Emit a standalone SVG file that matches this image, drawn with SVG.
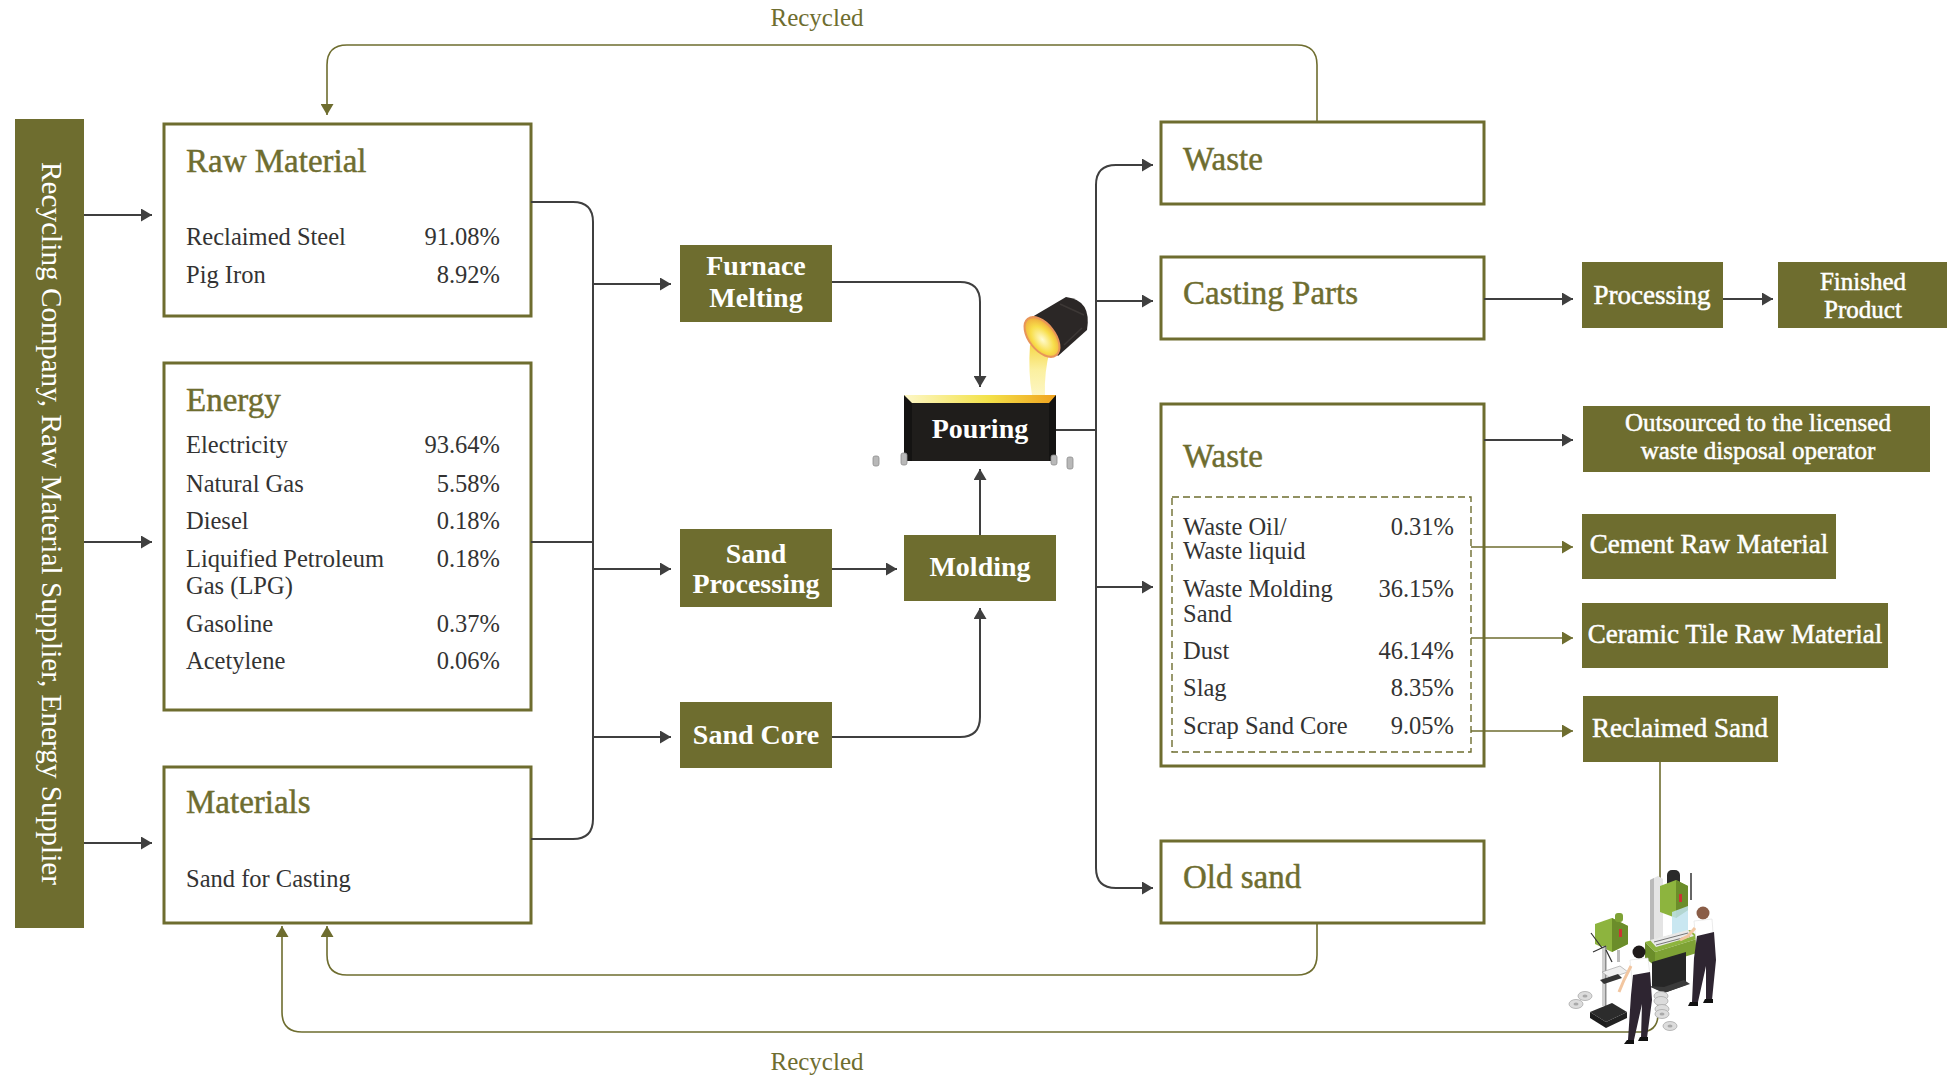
<svg xmlns="http://www.w3.org/2000/svg" width="1952" height="1077" viewBox="0 0 1952 1077">
  <style>
    .panel { fill: #ffffff; stroke: #6e6d2f; stroke-width: 3; }
    .solid { fill: #6e6d2f; }
    .title { font-family: "Liberation Serif", "DejaVu Serif", serif; font-size: 33px; fill: #6e6d2f; stroke: #6e6d2f; stroke-width: 0.45px; }
    .body { font-family: "Liberation Serif", "DejaVu Serif", serif; font-size: 24.5px; fill: #333333; }
    .num { text-anchor: end; }
    .lbl { font-family: "Liberation Serif", "DejaVu Serif", serif; font-size: 28px; font-weight: bold; fill: #ffffff; text-anchor: middle; }
    .lbl2 { font-family: "Liberation Serif", "DejaVu Serif", serif; font-size: 27px; fill: #ffffff; stroke: #ffffff; stroke-width: 0.5px; text-anchor: middle; }
    .small { font-size: 25px; }
    .note { font-family: "Liberation Serif", "DejaVu Serif", serif; font-size: 25px; fill: #6e6d2f; text-anchor: middle; }
    .dark { fill: none; stroke: #3f3f3f; stroke-width: 2; }
    .olive { fill: none; stroke: #6e6d2f; stroke-width: 1.6; }
  </style>
  <defs>
    <marker id="arrDark" markerUnits="userSpaceOnUse" markerWidth="12" markerHeight="13" refX="11" refY="6.5" orient="auto">
      <path d="M0,0 L11,6.5 L0,13 Z" fill="#3f3f3f"/>
    </marker>
    <marker id="arrOlive" markerUnits="userSpaceOnUse" markerWidth="12" markerHeight="13" refX="11" refY="6.5" orient="auto">
      <path d="M0,0 L11,6.5 L0,13 Z" fill="#6e6d2f"/>
    </marker>
    <linearGradient id="molten" x1="0" y1="0" x2="1" y2="0">
      <stop offset="0" stop-color="#fdf7c8"/>
      <stop offset="0.55" stop-color="#f3e24a"/>
      <stop offset="1" stop-color="#f0a21e"/>
    </linearGradient>
    <linearGradient id="stream" x1="0" y1="0" x2="0" y2="1">
      <stop offset="0" stop-color="#f6d84a"/>
      <stop offset="0.5" stop-color="#fbf0a0"/>
      <stop offset="1" stop-color="#fdf6c2"/>
    </linearGradient>
    <radialGradient id="mouth" cx="0.45" cy="0.55" r="0.6">
      <stop offset="0" stop-color="#fffbd0"/>
      <stop offset="0.55" stop-color="#f8de4a"/>
      <stop offset="1" stop-color="#eda23a"/>
    </radialGradient>
  </defs>

  <!-- supplier column -->
  <g id="suppliers">
    <rect class="solid" x="15" y="119" width="69" height="809"/>
    <text transform="translate(42,162) rotate(90)" font-family="Liberation Serif, DejaVu Serif, serif" font-size="29" fill="#ffffff" textLength="723" lengthAdjust="spacingAndGlyphs">Recycling Company, Raw Material Supplier, Energy Supplier</text>
  </g>

  <!-- input panels -->
  <g id="raw-material">
    <rect class="panel" x="164" y="124" width="367" height="192"/>
    <text class="title" x="186" y="172">Raw Material</text>
    <text class="body" x="186" y="245">Reclaimed Steel</text>
    <text class="body num" x="500" y="245">91.08%</text>
    <text class="body" x="186" y="283">Pig Iron</text>
    <text class="body num" x="500" y="283">8.92%</text>
  </g>

  <g id="energy">
    <rect class="panel" x="164" y="363" width="367" height="347"/>
    <text class="title" x="186" y="411">Energy</text>
    <text class="body" x="186" y="453">Electricity</text>
    <text class="body num" x="500" y="453">93.64%</text>
    <text class="body" x="186" y="492">Natural Gas</text>
    <text class="body num" x="500" y="492">5.58%</text>
    <text class="body" x="186" y="529">Diesel</text>
    <text class="body num" x="500" y="529">0.18%</text>
    <text class="body" x="186" y="567">Liquified Petroleum</text>
    <text class="body" x="186" y="594">Gas (LPG)</text>
    <text class="body num" x="500" y="567">0.18%</text>
    <text class="body" x="186" y="632">Gasoline</text>
    <text class="body num" x="500" y="632">0.37%</text>
    <text class="body" x="186" y="669">Acetylene</text>
    <text class="body num" x="500" y="669">0.06%</text>
  </g>

  <g id="materials">
    <rect class="panel" x="164" y="767" width="367" height="156"/>
    <text class="title" x="186" y="813">Materials</text>
    <text class="body" x="186" y="887">Sand for Casting</text>
  </g>

  <!-- process steps -->
  <g id="furnace-melting">
    <rect class="solid" x="680" y="245" width="152" height="77"/>
    <text class="lbl" x="756" y="275">Furnace</text>
    <text class="lbl" x="756" y="307">Melting</text>
  </g>

  <g id="sand-processing">
    <rect class="solid" x="680" y="529" width="152" height="78"/>
    <text class="lbl" x="756" y="563">Sand</text>
    <text class="lbl" x="756" y="593">Processing</text>
  </g>

  <g id="sand-core">
    <rect class="solid" x="680" y="702" width="152" height="66"/>
    <text class="lbl" x="756" y="744">Sand Core</text>
  </g>

  <g id="molding">
    <rect class="solid" x="904" y="535" width="152" height="66"/>
    <text class="lbl" x="980" y="576">Molding</text>
  </g>

  <g id="pouring">
    <!-- mould block -->
    <rect x="904" y="395" width="152" height="66" fill="#1f1d1b"/>
    <path d="M904,395 L912,403 L912,461 L904,461 Z" fill="#141312"/>
    <path d="M1056,395 L1049,403 L1049,461 L1056,461 Z" fill="#141312"/>
    <path d="M904,395 L1056,395 L1049,403 L912,403 Z" fill="url(#molten)"/>
    <text class="lbl" x="980" y="438">Pouring</text>
    <!-- mould pins -->
    <g fill="#b8b8b8" stroke="#8e8e8e" stroke-width="0.8">
      <rect x="873" y="456" width="6" height="10" rx="2"/>
      <rect x="901" y="453" width="6" height="12" rx="2"/>
      <rect x="1051" y="455" width="6" height="10" rx="2"/>
      <rect x="1067" y="457" width="6" height="12" rx="2"/>
    </g>
    <!-- ladle and stream -->
    <path d="M1030,345 Q1028,372 1032,395 L1045,395 Q1044,372 1050,350 Z" fill="url(#stream)"/>
    <path d="M1027,320 L1066,297 Q1092,300 1087,330 L1058,356 Z" fill="#2b2726"/>
    <path d="M1060,304 L1084,315 M1064,345 L1082,328" stroke="#3d3836" stroke-width="1.5"/>
    <ellipse cx="1042" cy="337" rx="13" ry="23" transform="rotate(-38 1042 337)" fill="url(#mouth)"/>
    <ellipse cx="1042" cy="337" rx="13" ry="23" transform="rotate(-38 1042 337)" fill="none" stroke="#e8955a" stroke-width="2"/>
  </g>

  <!-- outputs -->
  <g id="waste-recycled">
    <rect class="panel" x="1161" y="122" width="323" height="82"/>
    <text class="title" x="1183" y="170">Waste</text>
  </g>

  <g id="casting-parts">
    <rect class="panel" x="1161" y="257" width="323" height="82"/>
    <text class="title" x="1183" y="304">Casting Parts</text>
  </g>

  <g id="processing">
    <rect class="solid" x="1582" y="262" width="141" height="66"/>
    <text class="lbl2" x="1652" y="304">Processing</text>
  </g>

  <g id="finished-product">
    <rect class="solid" x="1778" y="262" width="169" height="66"/>
    <text class="lbl2 small" x="1863" y="290">Finished</text>
    <text class="lbl2 small" x="1863" y="318">Product</text>
  </g>

  <g id="waste">
    <rect class="panel" x="1161" y="404" width="323" height="362"/>
    <text class="title" x="1183" y="467">Waste</text>
    <rect x="1172" y="497" width="299" height="255" fill="none" stroke="#6e6d2f" stroke-width="1.4" stroke-dasharray="7 4"/>
    <text class="body" x="1183" y="535">Waste Oil/</text>
    <text class="body" x="1183" y="559">Waste liquid</text>
    <text class="body num" x="1454" y="535">0.31%</text>
    <text class="body" x="1183" y="597">Waste Molding</text>
    <text class="body" x="1183" y="622">Sand</text>
    <text class="body num" x="1454" y="597">36.15%</text>
    <text class="body" x="1183" y="659">Dust</text>
    <text class="body num" x="1454" y="659">46.14%</text>
    <text class="body" x="1183" y="696">Slag</text>
    <text class="body num" x="1454" y="696">8.35%</text>
    <text class="body" x="1183" y="734">Scrap Sand Core</text>
    <text class="body num" x="1454" y="734">9.05%</text>
  </g>

  <g id="old-sand">
    <rect class="panel" x="1161" y="841" width="323" height="82"/>
    <text class="title" x="1183" y="888">Old sand</text>
  </g>

  <g id="outsourced">
    <rect class="solid" x="1583" y="406" width="347" height="66"/>
    <text class="lbl2 small" x="1758" y="431">Outsourced to the licensed</text>
    <text class="lbl2 small" x="1758" y="459">waste disposal operator</text>
  </g>

  <g id="cement-raw-material">
    <rect class="solid" x="1582" y="514" width="254" height="65"/>
    <text class="lbl2" x="1709" y="553">Cement Raw Material</text>
  </g>

  <g id="ceramic-tile-raw-material">
    <rect class="solid" x="1582" y="603" width="306" height="65"/>
    <text class="lbl2" x="1735" y="643">Ceramic Tile Raw Material</text>
  </g>

  <g id="reclaimed-sand">
    <rect class="solid" x="1583" y="696" width="195" height="66"/>
    <text class="lbl2" x="1680" y="737">Reclaimed Sand</text>
  </g>

  <!-- connectors -->
  <g id="connectors">
    <path class="dark" d="M84,215 H152" marker-end="url(#arrDark)"/>
    <path class="dark" d="M84,542 H152" marker-end="url(#arrDark)"/>
    <path class="dark" d="M84,843 H152" marker-end="url(#arrDark)"/>

    <path class="dark" d="M531,202 H573 Q593,202 593,222 V819 Q593,839 573,839 H531"/>
    <path class="dark" d="M531,542 H593"/>
    <path class="dark" d="M593,284 H671" marker-end="url(#arrDark)"/>
    <path class="dark" d="M593,569 H671" marker-end="url(#arrDark)"/>
    <path class="dark" d="M593,737 H671" marker-end="url(#arrDark)"/>

    <path class="dark" d="M832,282 H960 Q980,282 980,302 V387" marker-end="url(#arrDark)"/>
    <path class="dark" d="M832,569 H897" marker-end="url(#arrDark)"/>
    <path class="dark" d="M832,737 H960 Q980,737 980,717 V608" marker-end="url(#arrDark)"/>
    <path class="dark" d="M980,535 V469" marker-end="url(#arrDark)"/>

    <path class="dark" d="M1056,430 H1096"/>
    <path class="dark" d="M1116,165 Q1096,165 1096,185 V868 Q1096,888 1116,888"/>
    <path class="dark" d="M1116,165 H1153" marker-end="url(#arrDark)"/>
    <path class="dark" d="M1116,888 H1153" marker-end="url(#arrDark)"/>
    <path class="dark" d="M1096,301 H1153" marker-end="url(#arrDark)"/>
    <path class="dark" d="M1096,587 H1153" marker-end="url(#arrDark)"/>

    <path class="dark" d="M1484,299 H1573" marker-end="url(#arrDark)"/>
    <path class="dark" d="M1723,299 H1773" marker-end="url(#arrDark)"/>
    <path class="dark" d="M1484,440 H1573" marker-end="url(#arrDark)"/>

    <path class="olive" d="M1471,547 H1573" marker-end="url(#arrOlive)"/>
    <path class="olive" d="M1471,638 H1573" marker-end="url(#arrOlive)"/>
    <path class="olive" d="M1471,731 H1573" marker-end="url(#arrOlive)"/>

    <path class="olive" d="M1317,122 V65 Q1317,45 1297,45 H347 Q327,45 327,65 V115" marker-end="url(#arrOlive)"/>
    <path class="olive" d="M1317,923 V955 Q1317,975 1297,975 H347 Q327,975 327,955 V926" marker-end="url(#arrOlive)"/>
    <path class="olive" d="M1660,762 V880"/>
    <path class="olive" d="M1658,1005 V1014 Q1658,1032 1640,1032 H302 Q282,1032 282,1012 V926" marker-end="url(#arrOlive)"/>
  </g>

  <text class="note" x="817" y="26">Recycled</text>
  <text class="note" x="817" y="1070">Recycled</text>

  <!-- workshop illustration -->
  <g id="workshop">
    <!-- big milling machine -->
    <path d="M1650,880 L1658,876 L1663,879 L1663,940 L1650,944 Z" fill="#e4e4e4"/>
    <path d="M1650,880 L1654,878 L1654,942 L1650,944 Z" fill="#b9b9b9"/>
    <rect x="1667" y="870" width="13" height="18" rx="5" fill="#2a2a2a"/>
    <path d="M1660,886 L1676,880 L1688,886 L1688,910 L1676,918 L1660,912 Z" fill="#8db43e"/>
    <path d="M1676,880 L1688,886 L1688,910 L1676,918 Z" fill="#6b8d2a"/>
    <rect x="1679" y="894" width="3" height="8" fill="#c33"/>
    <line x1="1691" y1="873" x2="1691" y2="900" stroke="#333" stroke-width="1.5"/>
    <path d="M1672,912 L1688,906 L1688,930 L1672,936 Z" fill="#bfe3ef" opacity="0.85"/>
    <path d="M1645,942 L1690,930 L1700,938 L1655,952 Z" fill="#8db43e"/>
    <path d="M1650,940 L1688,930 L1694,936 L1656,947 Z" fill="#e9e9e9"/>
    <path d="M1654,942 L1688,933 M1656,945 L1690,936" stroke="#777" stroke-width="1"/>
    <path d="M1645,942 L1655,952 L1655,966 L1645,958 Z" fill="#6b8d2a"/>
    <path d="M1655,952 L1700,938 L1700,952 L1655,966 Z" fill="#7ea235"/>
    <path d="M1652,962 L1686,952 L1686,985 L1664,993 L1652,987 Z" fill="#262626"/>
    <path d="M1648,986 L1664,993 L1690,984 L1684,980 L1664,987 Z" fill="#3a3a3a"/>
    <!-- drill press -->
    <path d="M1595,924 L1612,918 L1628,926 L1628,944 L1612,952 L1595,944 Z" fill="#8db43e"/>
    <path d="M1612,918 L1628,926 L1628,944 L1612,952 Z" fill="#6b8d2a"/>
    <rect x="1619" y="929" width="3" height="8" fill="#c33"/>
    <rect x="1615" y="913" width="8" height="9" rx="3" fill="#7ea235"/>
    <rect x="1602" y="946" width="4" height="60" fill="#cfcfcf"/>
    <rect x="1605" y="946" width="1.5" height="60" fill="#8e8e8e"/>
    <line x1="1591" y1="933" x2="1602" y2="948" stroke="#333" stroke-width="1.2"/>
    <line x1="1593" y1="952" x2="1606" y2="946" stroke="#333" stroke-width="1.2"/>
    <line x1="1606" y1="950" x2="1612" y2="962" stroke="#333" stroke-width="1.2"/>
    <rect x="1617" y="950" width="3" height="12" fill="#bbb"/>
    <path d="M1602,972 L1620,966 L1628,972 L1610,978 Z" fill="#efefef" stroke="#999" stroke-width="0.6"/>
    <path d="M1600,980 L1618,974 L1622,978 L1604,984 Z" fill="#333"/>
    <path d="M1590,1012 L1612,1003 L1627,1012 L1606,1022 Z" fill="#2c2c2c"/>
    <path d="M1590,1012 L1606,1022 L1606,1028 L1590,1018 Z" fill="#1c1c1c"/>
    <path d="M1606,1022 L1627,1012 L1627,1018 L1606,1028 Z" fill="#222"/>
    <!-- washers -->
    <g fill="#dcdcdc" stroke="#a9a9a9" stroke-width="0.8">
      <ellipse cx="1576" cy="1004" rx="7" ry="4.5"/>
      <ellipse cx="1585" cy="996" rx="7" ry="4.5"/>
      <ellipse cx="1661" cy="996" rx="7" ry="4.5"/>
      <ellipse cx="1661" cy="1001" rx="7" ry="4.5"/>
      <ellipse cx="1662" cy="1009" rx="7" ry="4.5"/>
      <ellipse cx="1662" cy="1014" rx="7" ry="4.5"/>
      <ellipse cx="1670" cy="1026" rx="7" ry="4.5"/>
    </g>
    <g fill="#a9a9a9">
      <ellipse cx="1576" cy="1004" rx="2.5" ry="1.5"/>
      <ellipse cx="1585" cy="996" rx="2.5" ry="1.5"/>
      <ellipse cx="1662" cy="1014" rx="2.5" ry="1.5"/>
      <ellipse cx="1670" cy="1026" rx="2.5" ry="1.5"/>
    </g>
    <!-- worker at the drill -->
    <circle cx="1639" cy="952" r="6.5" fill="#1f1a1a"/>
    <path d="M1630,960 L1648,958 L1651,985 L1633,989 Z" fill="#ffffff" stroke="#ddd" stroke-width="0.6"/>
    <path d="M1631,966 L1624,980 L1619,992" stroke="#f2c6a0" stroke-width="3" fill="none"/>
    <path d="M1633,975 L1650,972 L1652,1000 L1647,1038 L1641,1038 L1642,1004 L1634,1040 L1628,1040 L1631,995 Z" fill="#2e2531"/>
    <path d="M1627,1040 L1634,1040 L1634,1044 L1624,1044 Z M1640,1037 L1648,1037 L1648,1041 L1638,1041 Z" fill="#111"/>
    <!-- worker at the mill -->
    <circle cx="1703" cy="913" r="6.5" fill="#8a5d47"/>
    <path d="M1694,921 L1712,919 L1714,946 L1697,950 Z" fill="#ffffff" stroke="#ddd" stroke-width="0.6"/>
    <path d="M1695,928 L1688,936 L1680,940" stroke="#f2c6a0" stroke-width="3" fill="none"/>
    <path d="M1697,936 L1714,932 L1716,960 L1712,1000 L1706,1000 L1706,966 L1698,1002 L1692,1002 L1694,958 Z" fill="#2e2531"/>
    <path d="M1690,1002 L1698,1002 L1698,1006 L1688,1006 Z M1705,999 L1713,999 L1713,1003 L1703,1003 Z" fill="#111"/>
  </g>
</svg>
